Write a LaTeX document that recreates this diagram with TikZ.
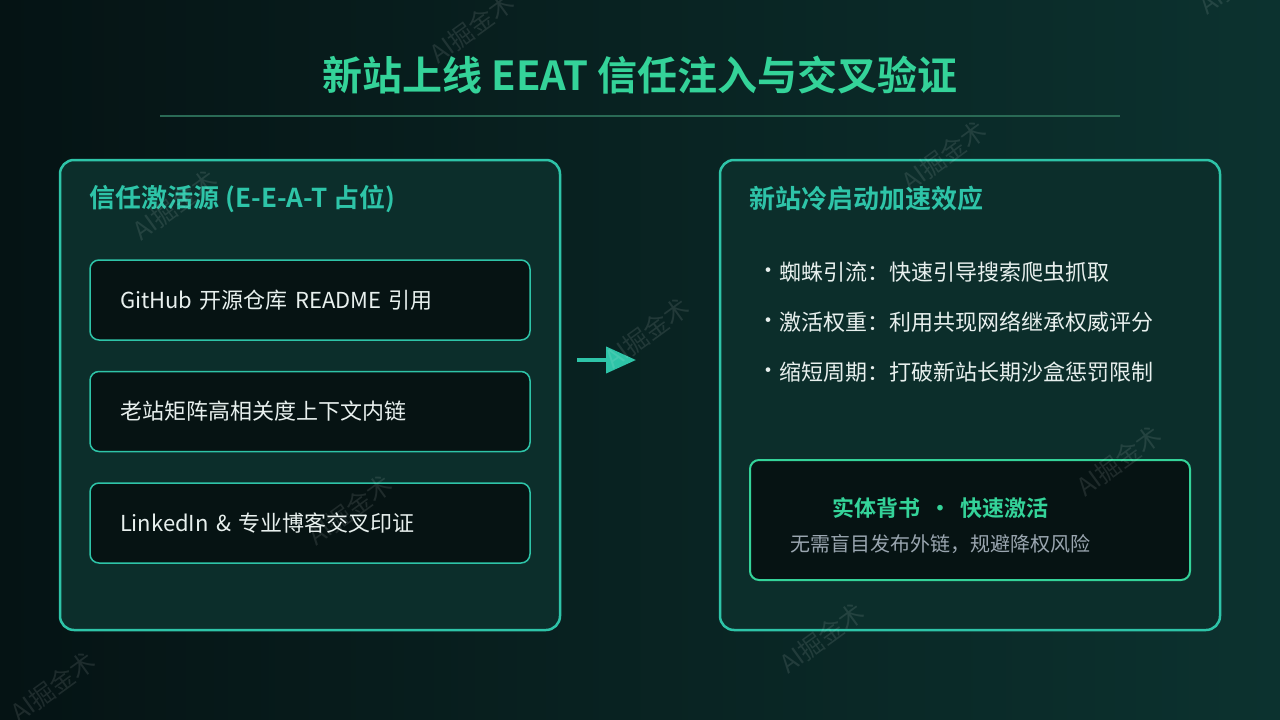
\documentclass[tikz,border=0pt]{standalone}
\usepackage{fontspec}
\setmainfont{Noto Sans CJK SC}[BoldFont={Noto Sans CJK SC Bold}]
\usetikzlibrary{arrows.meta,positioning}
\definecolor{bgl}{HTML}{051314}
\definecolor{bgr}{HTML}{0C322F}
\definecolor{cardbg}{HTML}{0C2E2B}
\definecolor{boxbg}{HTML}{061313}
\definecolor{accent}{HTML}{2EC4A8}
\definecolor{mint}{HTML}{34D399}
\definecolor{rulecol}{HTML}{2A6A55}
\definecolor{soft}{HTML}{9AA6B0}
\definecolor{paper}{HTML}{E8F0EE}
\tikzset{x=1pt,y=-1pt,
  card/.style={draw=accent,line width=2.5pt,fill=cardbg,rounded corners=14pt,
    minimum width=500pt,minimum height=470pt},
  cardtitle/.style={anchor=west,inner sep=0pt,text=accent,
    font=\bfseries\fontsize{26}{30}\selectfont},
  item/.style={draw=accent,line width=1.5pt,fill=boxbg,rounded corners=9pt,
    minimum height=80pt,text width=380pt,inner xsep=30pt,align=left,
    text=paper,font=\fontsize{22}{26}\selectfont},
  point/.style={anchor=west,inner sep=0pt,text=paper,font=\fontsize{22}{26}\selectfont},
  seal/.style={draw=mint,line width=2pt,fill=boxbg,rounded corners=9pt,
    minimum width=440pt,minimum height=120pt},
  wmark/.style={rotate=36,text=white,opacity=0.1,font=\fontsize{25}{25}\selectfont}
}
\begin{document}
\begin{tikzpicture}
\useasboundingbox (0,0) rectangle (1280,720);
\shade[left color=bgl,right color=bgr] (0,0) rectangle (1280,720);
% title
\node[text=mint,font=\bfseries\fontsize{40}{46}\selectfont] (ttl) at (640,75)
  {新站上线 EEAT 信任注入与交叉验证};
\draw[rulecol,line width=2pt] (160,116) -- (1120,116);
% left: sources
\node[card] (src) at (310,395) {};
\node[cardtitle] (srct) at ([xshift=31pt,yshift=-40pt]src.north west)
  {信任激活源 (E-E-A-T 占位)};
\node[item] (gh) at (310,300) {GitHub 开源仓库 README 引用};
\node[item,below=30pt of gh] (old) {老站矩阵高相关度上下文内链};
\node[item,below=30pt of old] (li) {LinkedIn \& 专业博客交叉印证};
% arrow
\coordinate (as) at (577,360);
\coordinate (ae) at (636,360);
\draw[accent,line width=4pt,-{Triangle[length=30pt,width=26pt]}] (as) -- (ae);
% right: effect
\node[card] (eff) at (970,395) {};
\node[cardtitle] (efft) at ([xshift=31pt,yshift=-40pt]eff.north west)
  {新站冷启动加速效应};
\foreach \t [count=\i] in {蜘蛛引流：快速引导搜索爬虫抓取,
    激活权重：利用共现网络继承权威评分,
    缩短周期：打破新站长期沙盒惩罚限制} {
  \node[point] (d\i) at (757,223+50*\i) {·};
  \node[point] (p\i) at (779,222+50*\i) {\t};
}
\node[seal] (sl) at (970,520) {};
\node[text=mint,font=\bfseries\fontsize{22}{26}\selectfont] (slh) at (940,508)
  {实体背书\hspace{9pt}·\hspace{9pt}快速激活};
\node[text=soft,font=\fontsize{20}{24}\selectfont] (sls) at (940,544)
  {无需盲目发布外链，规避降权风险};
% watermarks
\begin{scope}
\clip (0,0) rectangle (1280,720);
\foreach \x/\y in {175/205,472/28,53/687,350/510,647/333,944/156,1241/-21,822/638,1119/461}
  \node[wmark] at (\x,\y) {AI掘金术};
\end{scope}
\end{tikzpicture}
\end{document}
